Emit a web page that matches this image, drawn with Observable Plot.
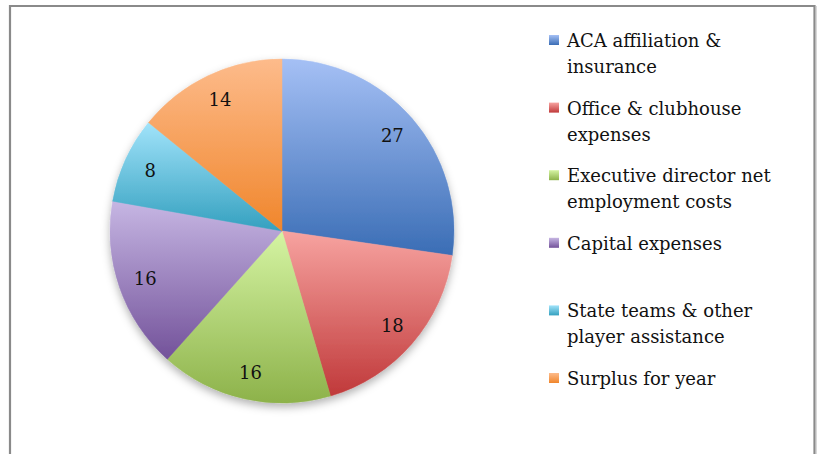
<!DOCTYPE html>
<html><head><meta charset="utf-8">
<script src="https://cdn.jsdelivr.net/npm/d3@7"></script>
<script src="https://cdn.jsdelivr.net/npm/@observablehq/plot@0.6"></script>
<style>
html,body{margin:0;padding:0;background:#fff;}
#chart{width:818px;height:454px;overflow:hidden;}
</style></head><body><div id="chart"></div>
<script>
const categories = ["ACA affiliation & insurance", "Office & clubhouse expenses", "Executive director net employment costs", "Capital expenses", "State teams & other player assistance", "Surplus for year"];
const legendLines = [["ACA affiliation &","insurance"],["Office & clubhouse","expenses"],["Executive director net","employment costs"],["Capital expenses"],["State teams & other","player assistance"],["Surplus for year"]];
const values = [27, 18, 16, 16, 8, 14];
const lightColors = ["#a5c0f5","#f7a3a0","#d5f4a3","#c6b6e3","#a1e3fa","#fdbb8b"];
const darkColors = ["#3a6db5","#c0393a","#8db24a","#73529a","#34a0bf","#f0862c"];

const data = categories.map((c, i) => ({category: c, value: values[i], lines: legendLines[i], light: lightColors[i], dark: darkColors[i]}));
const arcs = d3.pie().sort(null).value(d => d.value)(data);
const labelRadius = 0.845;
const labels = arcs.map(a => {
  const m = (a.startAngle + a.endAngle) / 2;
  return {text: String(a.data.value), x: labelRadius * Math.sin(m), y: labelRadius * Math.cos(m)};
});

function frame(index, scales, values, dimensions) {
  const g = d3.create("svg:g");
  g.append("path").attr("d", "M10,460V6H814.5V460").attr("fill", "none").attr("stroke", "#8a8a8a").attr("stroke-width", 2.2);
  g.append("line").attr("x1", 816.5).attr("x2", 816.5).attr("y1", 6).attr("y2", 460).attr("stroke", "#d8d8d8").attr("stroke-width", 1);
  return g.node();
}

function slices(index, scales, values, dimensions) {
  const x = scales.x, y = scales.y;
  const cx = x(0), cy = y(0), r = x(1) - x(0);
  const g = d3.create("svg:g");
  const defs = g.append("defs");
  const f = defs.append("filter").attr("id", "pieShadow").attr("x", "-20%").attr("y", "-20%").attr("width", "140%").attr("height", "140%");
  f.append("feDropShadow").attr("dx", 0).attr("dy", 4).attr("stdDeviation", 4).attr("flood-color", "#000").attr("flood-opacity", 0.3);
  arcs.forEach((a, i) => {
    const grad = defs.append("linearGradient").attr("id", "grad" + i).attr("x1", 0).attr("y1", 0).attr("x2", 0).attr("y2", 1);
    grad.append("stop").attr("offset", "0%").attr("stop-color", a.data.light);
    grad.append("stop").attr("offset", "100%").attr("stop-color", a.data.dark);
  });
  const arc = d3.arc().innerRadius(0).outerRadius(r);
  const pg = g.append("g").attr("transform", `translate(${cx},${cy})`).attr("filter", "url(#pieShadow)");
  pg.selectAll("path").data(arcs).join("path").attr("d", arc).attr("fill", (d, i) => `url(#grad${i})`)
    .attr("stroke", (d, i) => `url(#grad${i})`).attr("stroke-width", 0.5);
  return g.node();
}

function legend(index, scales, values, dimensions) {
  const g = d3.create("svg:g").attr("font-family", "DejaVu Serif").attr("font-size", 18).attr("fill", "#111").attr("text-anchor", "start");
  data.forEach((d, i) => {
    const b = 47 + i * 67.6;
    g.append("rect").attr("x", 549).attr("y", b - 12).attr("width", 10).attr("height", 10).attr("fill", `url(#grad${i})`);
    const t = g.append("text").attr("x", 567).attr("y", b).attr("text-anchor", "start");
    d.lines.forEach((ln, j) => t.append("tspan").attr("x", 567).attr("y", b + 26 * j).text(ln));
  });
  return g.node();
}

const chart = Plot.plot({
  width: 818,
  height: 454,
  margin: 0,
  x: {domain: [-1, 1], range: [110, 454], axis: null},
  y: {domain: [-1, 1], range: [403, 59], axis: null},
  style: {background: "#fff", fontFamily: "DejaVu Serif", overflow: "hidden"},
  marks: [
    frame,
    slices,
    Plot.text(labels, {x: "x", y: "y", text: "text", fontSize: 18, fontFamily: "DejaVu Serif", fill: "#111"}),
    legend
  ]
});
document.getElementById("chart").appendChild(chart);
</script>
</body></html>
